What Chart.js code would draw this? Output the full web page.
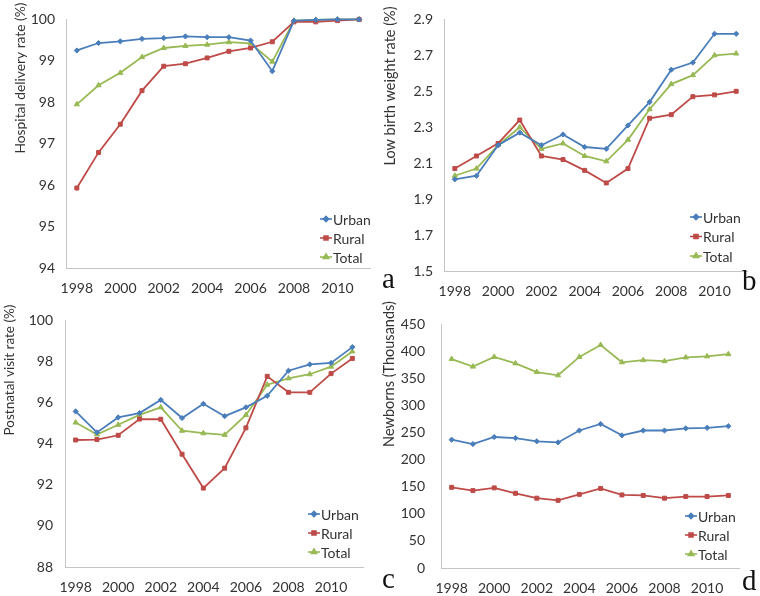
<!DOCTYPE html>
<html>
<head>
<meta charset="utf-8">
<script src="https://cdn.jsdelivr.net/npm/chart.js@4.4.0/dist/chart.umd.min.js"></script>
<style>
  body { margin: 0; background: #fff; }
  #wrap { position: relative; width: 760px; height: 596px; }
  canvas { position: absolute; }
  .letter { position: absolute; font-family: "Liberation Serif", serif; font-size: 29px; line-height: 29px; color: #111; }
</style>
</head>
<body>
<div id="wrap">
  <canvas id="pa" width="380" height="300" style="left:0;top:0"></canvas>
  <canvas id="pb" width="380" height="300" style="left:380px;top:0"></canvas>
  <canvas id="pc" width="380" height="296" style="left:0;top:300px"></canvas>
  <canvas id="pd" width="380" height="296" style="left:380px;top:300px"></canvas>
  <div class="letter" style="left:382px;top:264px">a</div>
  <div class="letter" style="left:742px;top:266px">b</div>
  <div class="letter" style="left:382px;top:564px">c</div>
  <div class="letter" style="left:742px;top:566px">d</div>
</div>
<script>
const years = ["1998", "1999", "2000", "2001", "2002", "2003", "2004",
  "2005", "2006", "2007", "2008", "2009", "2010", "2011"];
const tickYears = ["1998", "2000", "2002", "2004", "2006", "2008", "2010"];

// a: hospital delivery rate (%)
const hospUrban = [99.25, 99.43, 99.47, 99.53, 99.55, 99.59, 99.57, 99.57, 99.49, 98.75, 99.97, 99.99, 100, 100];
const hospRural = [95.93, 96.79, 97.47, 98.28, 98.87, 98.93, 99.07, 99.23, 99.31, 99.46, 99.94, 99.94, 99.97, 100];
const hospTotal = [97.95, 98.41, 98.71, 99.09, 99.31, 99.36, 99.39, 99.45, 99.42, 98.98, 99.97, 99.99, 100, 100];

// b: low birth weight rate (%)
const lbwUrban = [2.01, 2.03, 2.20, 2.27, 2.20, 2.26, 2.19, 2.18, 2.31, 2.44, 2.62, 2.66, 2.82, 2.82];
const lbwRural = [2.07, 2.14, 2.21, 2.34, 2.14, 2.12, 2.06, 1.99, 2.07, 2.35, 2.37, 2.47, 2.48, 2.50];
const lbwTotal = [2.03, 2.07, 2.20, 2.30, 2.18, 2.21, 2.14, 2.11, 2.23, 2.40, 2.54, 2.59, 2.70, 2.71];

// c: postnatal visit rate (%)
const pnvUrban = [95.57, 94.55, 95.28, 95.49, 96.13, 95.25, 95.94, 95.34, 95.77, 96.33, 97.55, 97.86, 97.93, 98.70];
const pnvRural = [94.18, 94.20, 94.41, 95.20, 95.19, 93.49, 91.84, 92.81, 94.77, 97.28, 96.50, 96.50, 97.41, 98.15];
const pnvTotal = [95.03, 94.45, 94.92, 95.40, 95.77, 94.63, 94.51, 94.43, 95.40, 96.87, 97.18, 97.38, 97.75, 98.49];

// d: newborns (thousands)
const nbUrban = [237, 229, 242, 240, 234, 232, 254, 266, 245, 254, 254, 258, 259, 262];
const nbRural = [149, 143, 148, 138, 129, 125, 136, 147, 135, 134, 129, 132, 132, 134];
const nbTotal = [386, 372, 390, 378, 362, 356, 390, 412, 380, 384, 382, 389, 391, 395];

const axisGray = "#c4c4c4";
const textColor = "#333";
const fontFam = "Lato, 'Noto Sans', sans-serif";

// rotated y-axis title, placed near the top like the original
const sideTitle = {
  id: "sideTitle",
  afterDraw(chart, args, opts) {
    const ctx = chart.ctx;
    ctx.save();
    ctx.translate(opts.x, opts.y);
    ctx.rotate(-Math.PI / 2);
    ctx.font = opts.size + "px " + fontFam;
    ctx.fillStyle = textColor;
    ctx.textAlign = "center";
    ctx.textBaseline = "middle";
    ctx.fillText(opts.text, 0, 0);
    ctx.restore();
  },
};

// legend sitting inside the plot, bottom right
const cornerLegend = {
  id: "cornerLegend",
  afterDraw(chart, args, opts) {
    const ctx = chart.ctx;
    ctx.save();
    ctx.font = "14px " + fontFam;
    ctx.textBaseline = "middle";
    chart.data.datasets.forEach((ds, i) => {
      const y = opts.y + i * opts.gap;
      ctx.strokeStyle = ds.borderColor;
      ctx.fillStyle = ds.borderColor;
      ctx.lineWidth = 1.6;
      ctx.beginPath();
      ctx.moveTo(opts.x, y);
      ctx.lineTo(opts.x + 12, y);
      ctx.stroke();
      Chart.helpers.drawPoint(ctx, { pointStyle: ds.pointStyle, radius: ds.pointRadius, borderWidth: 1 }, opts.x + 6, y);
      ctx.fillStyle = textColor;
      ctx.fillText(ds.label, opts.x + 13, y + 1);
    });
    ctx.restore();
  },
};

function series(label, data, color, style, r) {
  return {
    label: label,
    data: data,
    borderColor: color,
    backgroundColor: color,
    borderWidth: 1.8,
    pointStyle: style,
    pointRadius: r,
    pointBorderWidth: 1,
    tension: 0,
    clip: 6,
  };
}

function panel(id, cfg) {
  const h = document.getElementById(id).height;
  new Chart(document.getElementById(id), {
    type: "line",
    data: {
      labels: years,
      datasets: [
        series("Urban", cfg.urban, "#4A7EBB", "rectRot", 2.6),
        series("Rural", cfg.rural, "#BE4B48", "rect", 2.8),
        series("Total", cfg.total, "#98B954", "triangle", 3),
      ],
    },
    options: {
      responsive: false,
      animation: false,
      layout: { padding: { left: 0, top: cfg.top, right: 380 - cfg.right, bottom: 0 } },
      scales: {
        x: {
          offset: true,
          grid: { display: false, drawTicks: false },
          border: { color: axisGray },
          ticks: {
            autoSkip: false,
            maxRotation: 0,
            padding: 12,
            color: textColor,
            font: { family: fontFam, size: 14 },
            callback: (v, i) => (tickYears.includes(years[i]) ? years[i] : ""),
          },
          afterFit: (s) => { s.height = h - cfg.bottom; },
        },
        y: {
          min: cfg.min,
          max: cfg.max,
          grid: { display: false, drawTicks: false },
          border: { color: axisGray },
          ticks: {
            stepSize: cfg.step,
            padding: cfg.yPad,
            color: textColor,
            font: { family: fontFam, size: 14 },
            callback: (v) => v.toFixed(cfg.dec),
          },
          afterFit: (s) => { s.width = cfg.left; },
        },
      },
      plugins: {
        legend: { display: false },
        tooltip: { enabled: false },
        sideTitle: cfg.title,
        cornerLegend: cfg.legend,
      },
    },
    plugins: [sideTitle, cornerLegend],
  });
}

panel("pa", {
  urban: hospUrban, rural: hospRural, total: hospTotal,
  left: 66, top: 15, right: 370, bottom: 268,
  min: 94, max: 100, step: 1, dec: 0, yPad: 11,
  title: { text: "Hospital delivery rate (%)", x: 21, y: 78, size: 13.8 },
  legend: { x: 320, y: 219, gap: 19 },
});

panel("pb", {
  urban: lbwUrban, rural: lbwRural, total: lbwTotal,
  left: 64, top: 9, right: 367, bottom: 271,
  min: 1.5, max: 2.9, step: 0.2, dec: 1, yPad: 11,
  title: { text: "Low birth weight rate (%)", x: 10, y: 86, size: 14.5 },
  legend: { x: 310, y: 217, gap: 19.5 },
});

panel("pc", {
  urban: pnvUrban, rural: pnvRural, total: pnvTotal,
  left: 65, top: 7, right: 363, bottom: 267,
  min: 88, max: 100, step: 2, dec: 0, yPad: 12,
  title: { text: "Postnatal visit rate (%)", x: 10, y: 70, size: 13.5 },
  legend: { x: 308, y: 214, gap: 19 },
});

panel("pd", {
  urban: nbUrban, rural: nbRural, total: nbTotal,
  left: 61, top: 9, right: 359, bottom: 268,
  min: 0, max: 450, step: 50, dec: 0, yPad: 16,
  title: { text: "Newborns (Thousands)", x: 9, y: 74, size: 14.5 },
  legend: { x: 305, y: 216, gap: 19 },
});
</script>
</body>
</html>
